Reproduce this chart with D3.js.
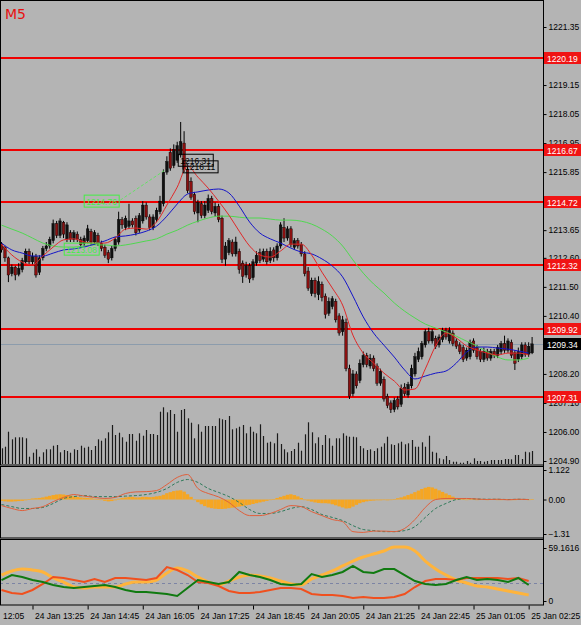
<!DOCTYPE html>
<html>
<head>
<meta charset="utf-8">
<script src="https://cdn.jsdelivr.net/npm/d3@7"></script>
<style>
  html, body { margin: 0; padding: 0; background: #b4b4b4; }
  svg { display: block; font-family: "Liberation Sans", Arial, sans-serif; }
</style>
</head>
<body>
<svg id="chart" width="581" height="625"></svg>
<script>
// ---- data ----
// one row per 5-minute bar: [open, high, low, close]
const candles = [
  [1213.13,1213.20,1212.80,1212.90],[1213.00,1213.05,1212.45,1212.60],[1212.60,1212.65,1211.68,1211.95],
  [1212.00,1212.35,1211.90,1212.25],[1212.25,1212.30,1211.75,1211.95],[1211.98,1212.40,1211.90,1212.20],
  [1212.15,1212.60,1212.05,1212.50],[1212.45,1212.95,1212.40,1212.85],[1212.85,1212.95,1212.35,1212.45],
  [1212.45,1212.80,1212.35,1212.65],[1212.65,1212.75,1211.85,1211.95],[1212.05,1212.70,1211.95,1212.60],
  [1212.60,1213.05,1212.50,1212.95],[1212.95,1213.20,1212.85,1213.05],[1213.05,1213.40,1212.95,1213.30],
  [1213.25,1214.05,1213.15,1213.90],[1213.90,1214.00,1213.35,1213.45],[1213.45,1214.10,1213.35,1214.00],
  [1213.95,1214.00,1213.35,1213.50],[1213.30,1213.95,1213.20,1213.85],[1213.55,1213.65,1213.20,1213.30],
  [1213.30,1213.65,1213.20,1213.55],[1213.50,1213.60,1213.20,1213.30],[1213.30,1213.40,1213.00,1213.10],
  [1213.15,1213.45,1213.05,1213.35],[1213.25,1213.85,1213.15,1213.70],[1213.60,1213.70,1213.10,1213.20],
  [1213.20,1213.65,1213.10,1213.55],[1213.45,1213.55,1213.05,1213.15],[1213.15,1213.25,1212.85,1212.95],
  [1213.00,1213.10,1212.60,1212.70],[1212.80,1212.90,1212.40,1212.55],[1212.60,1213.05,1212.50,1212.95],
  [1212.95,1213.40,1212.85,1213.30],[1213.20,1214.35,1213.10,1214.05],[1214.05,1214.15,1213.70,1213.85],
  [1213.75,1214.20,1213.65,1214.10],[1213.80,1214.65,1213.70,1214.00],[1214.00,1214.10,1213.75,1213.85],
  [1214.10,1214.20,1213.45,1213.55],[1213.65,1214.30,1213.55,1214.20],[1214.00,1214.75,1213.90,1214.60],
  [1214.60,1214.70,1214.05,1214.15],[1214.15,1214.25,1213.65,1213.75],[1213.75,1214.25,1213.65,1214.15],
  [1214.05,1214.50,1213.95,1214.40],[1214.35,1214.95,1214.25,1214.75],[1214.65,1215.95,1214.55,1215.85],
  [1215.85,1216.45,1215.75,1216.25],[1216.60,1216.75,1215.90,1216.00],[1216.10,1216.90,1216.00,1216.70],
  [1216.30,1217.00,1216.20,1216.85],[1216.50,1217.75,1216.40,1217.00],[1216.95,1217.40,1215.85,1215.95],
  [1215.95,1216.05,1215.05,1215.15],[1215.50,1215.65,1214.80,1214.90],[1215.00,1215.10,1214.25,1214.35],
  [1214.30,1214.80,1213.95,1214.70],[1214.65,1214.75,1214.10,1214.20],[1214.20,1214.75,1214.10,1214.60],
  [1214.40,1215.00,1214.30,1214.85],[1214.85,1214.95,1214.25,1214.35],[1214.30,1214.70,1214.15,1214.55],
  [1214.55,1214.65,1213.95,1214.05],[1214.10,1214.20,1212.40,1212.55],[1212.55,1213.20,1212.30,1213.05],
  [1212.80,1213.35,1212.70,1213.25],[1213.20,1213.30,1212.65,1212.75],[1212.75,1213.40,1212.65,1213.20],
  [1212.85,1212.95,1212.00,1212.15],[1212.40,1212.50,1211.65,1211.90],[1211.95,1212.45,1211.85,1212.30],
  [1212.30,1212.40,1211.65,1211.80],[1211.85,1212.55,1211.75,1212.45],[1212.40,1212.85,1212.30,1212.70],
  [1212.80,1212.95,1212.40,1212.50],[1212.55,1212.95,1212.45,1212.85],[1212.85,1212.95,1212.35,1212.45],
  [1212.50,1213.00,1212.40,1212.85],[1212.90,1213.00,1212.45,1212.60],[1212.60,1213.15,1212.50,1213.05],
  [1213.05,1213.95,1212.95,1213.85],[1213.75,1214.10,1213.20,1213.35],[1213.35,1213.80,1213.25,1213.70],
  [1213.70,1213.80,1213.00,1213.10],[1213.00,1213.35,1212.90,1213.25],[1213.25,1213.35,1212.95,1213.05],
  [1213.10,1213.20,1212.65,1212.75],[1212.75,1212.85,1211.90,1212.00],[1212.10,1212.25,1211.35,1211.45],
  [1211.25,1211.85,1211.15,1211.75],[1211.75,1211.85,1211.10,1211.25],[1211.20,1211.90,1211.00,1211.70],
  [1211.60,1211.70,1210.95,1211.10],[1211.15,1211.25,1210.30,1210.45],[1210.50,1211.10,1210.40,1210.95],
  [1210.75,1211.15,1210.65,1211.05],[1210.95,1211.05,1210.15,1210.25],[1210.40,1210.50,1209.65,1209.75],
  [1209.80,1210.40,1209.65,1210.25],[1210.15,1210.30,1208.30,1208.40],[1208.40,1208.55,1207.25,1207.35],
  [1207.45,1208.35,1207.35,1208.20],[1208.20,1208.30,1207.65,1207.75],[1207.95,1208.75,1207.85,1208.60],
  [1208.55,1209.05,1208.45,1208.90],[1208.90,1209.00,1208.45,1208.55],[1208.50,1208.95,1208.40,1208.80],
  [1208.80,1208.90,1208.30,1208.40],[1208.50,1208.60,1207.75,1207.85],[1207.85,1208.40,1207.75,1208.30],
  [1208.00,1208.10,1207.15,1207.25],[1207.35,1207.45,1206.90,1207.00],[1207.10,1207.20,1206.72,1206.85],
  [1206.85,1207.30,1206.75,1207.20],[1207.25,1207.35,1206.85,1206.95],[1207.05,1207.80,1206.95,1207.65],
  [1207.70,1207.85,1207.35,1207.45],[1207.40,1207.90,1207.30,1207.80],[1207.75,1208.55,1207.65,1208.40],
  [1208.20,1209.00,1208.10,1208.85],[1208.75,1209.20,1208.65,1209.05],[1208.85,1209.45,1208.75,1209.35],
  [1209.30,1209.90,1209.20,1209.80],[1209.80,1209.95,1209.35,1209.45],[1209.45,1209.90,1209.35,1209.80],
  [1209.55,1209.65,1209.15,1209.25],[1209.30,1209.70,1209.20,1209.60],[1209.50,1209.95,1209.40,1209.85],
  [1209.85,1209.95,1209.50,1209.60],[1209.45,1209.97,1209.35,1209.85],[1209.75,1209.85,1209.25,1209.35],
  [1209.45,1209.55,1209.15,1209.25],[1209.30,1209.40,1208.95,1209.05],[1209.20,1209.30,1208.65,1208.75],
  [1208.80,1209.20,1208.70,1209.10],[1208.85,1209.50,1208.75,1209.40],[1209.45,1209.55,1209.00,1209.10],
  [1209.20,1209.30,1208.75,1208.85],[1209.05,1209.15,1208.65,1208.75],[1208.75,1209.20,1208.65,1209.05],
  [1209.05,1209.15,1208.70,1208.80],[1208.80,1209.15,1208.70,1209.05],[1209.05,1209.15,1208.80,1208.90],
  [1208.90,1209.30,1208.80,1209.20],[1209.05,1209.45,1208.95,1209.35],[1209.35,1209.65,1209.00,1209.10],
  [1209.10,1209.55,1209.00,1209.45],[1209.40,1209.50,1208.80,1208.90],[1209.00,1209.10,1208.35,1208.60],
  [1208.75,1209.20,1208.65,1209.05],[1208.85,1209.40,1208.75,1209.30],[1209.30,1209.40,1208.85,1208.95],
  [1208.95,1209.40,1208.85,1209.25],[1209.00,1209.60,1208.95,1209.34]
];

// tick volume per bar
const volumes = [
  157,173,323,247,267,267,267,257,73,113,147,73,117,147,147,183,190,117,140,130,
  113,147,140,183,163,173,140,180,247,233,257,317,390,290,313,267,223,300,300,233,
  307,283,340,300,300,290,523,567,517,540,500,323,540,550,457,413,257,397,323,380,
  380,380,380,457,447,440,480,347,357,373,390,307,373,323,307,397,280,213,223,207,
  307,200,147,117,130,150,213,133,297,417,317,207,267,190,290,257,183,257,257,307,
  283,273,273,267,180,157,140,147,130,157,173,207,273,197,190,207,223,197,207,240,
  173,173,217,173,283,123,113,57,47,80,40,23,23,13,13,30,13,57,30,30,
  23,30,40,40,40,40,50,50,47,90,90,50,123,117,130
];

// indicator lines, one value every SAMPLE_STEP bars (bar 0, 3, 6 ...)
const SAMPLE_STEP = 3;
const maFast = [
  1213.12,1212.71,1212.44,1212.33,1212.67,1213.01,1213.28,1213.32,1213.20,1213.16,
  1213.16,1213.35,1213.69,1213.73,1213.69,1213.96,1214.60,1215.28,1216.08,1215.66,
  1215.24,1214.75,1214.22,1213.61,1213.05,1212.71,1212.63,1212.86,1213.12,1213.12,
  1212.71,1212.06,1211.46,1210.81,1209.67,1208.99,1208.61,1208.23,1207.93,1207.59,
  1207.63,1208.39,1209.26,1209.75,1209.56,1209.26,1209.11,1208.99,1208.92,1208.99,
  1208.99,1208.92
];
const maMid = [
  1213.16,1212.90,1212.78,1212.67,1212.67,1212.78,1212.90,1212.94,1213.01,1213.12,
  1213.24,1213.39,1213.43,1213.50,1213.61,1213.80,1214.18,1214.64,1215.02,1215.10,
  1215.17,1215.21,1215.06,1214.56,1213.96,1213.54,1213.32,1213.16,1212.97,1212.82,
  1212.75,1212.56,1212.29,1211.88,1211.15,1210.36,1209.75,1209.29,1208.84,1208.35,
  1208.01,1208.12,1208.23,1208.31,1208.61,1209.03,1209.22,1209.22,1209.18,1209.14,
  1209.07,1208.99
];
const maSlow = [
  1213.84,1213.69,1213.54,1213.35,1213.16,1213.05,1213.01,1213.01,1213.05,1213.09,
  1213.09,1213.05,1213.09,1213.16,1213.24,1213.32,1213.50,1213.65,1213.84,1213.99,
  1214.11,1214.18,1214.18,1214.14,1214.11,1214.11,1214.07,1214.03,1214.03,1213.99,
  1213.88,1213.69,1213.43,1213.05,1212.52,1212.02,1211.61,1211.27,1210.89,1210.58,
  1210.32,1210.09,1209.94,1209.79,1209.63,1209.44,1209.26,1209.03,1208.84,1208.73,
  1208.73,1208.80
];

// MACD: histogram per bar, lines sampled
const macdHist = [
  -0.05,-0.07,-0.08,-0.08,-0.07,-0.06,-0.05,-0.03,0.02,0.04,0.05,0.06,0.08,
  0.11,0.14,0.17,0.19,0.2,0.19,0.17,0.15,0.12,0.1,0.08,0.07,0.06,0.05,0.03,0.01,
  -0.02,-0.05,-0.07,-0.06,-0.03,0.03,0.06,0.08,0.1,0.1,0.08,0.08,0.1,0.1,0.09,
  0.1,0.12,0.14,0.18,0.24,0.28,0.32,0.34,0.35,0.3,0.2,0.1,0.0,
  -0.1,-0.18,-0.25,-0.3,-0.33,-0.35,-0.36,-0.36,-0.35,-0.33,-0.31,-0.29,
  -0.27,-0.25,-0.22,-0.2,-0.17,-0.14,-0.11,-0.08,-0.05,-0.02,
  0.02,0.06,0.1,0.14,0.18,0.2,0.17,0.12,0.06,0.0,-0.04,
  -0.08,-0.11,-0.13,-0.14,-0.14,-0.15,-0.18,-0.22,-0.26,-0.3,-0.34,-0.33,
  -0.27,-0.2,-0.14,-0.1,-0.07,-0.05,-0.04,-0.03,-0.03,-0.02,-0.03,-0.02,
  0.02,0.05,0.08,0.12,0.17,0.22,0.28,0.34,0.4,0.45,0.48,
  0.46,0.41,0.35,0.29,0.23,0.17,0.11,0.06,0.02,
  0.01,-0.01,0.02,0.01,-0.02,0.01,0.02,-0.01,0.01,0.02,-0.02,-0.01,0.01,0.02,-0.01,-0.02,0.01,0.02,0.01,-0.01,0.02
];
const macdMain = [
  -0.23,-0.34,-0.42,-0.34,-0.27,-0.08,0.08,0.19,0.13,0.08,
  0.04,0.08,0.23,0.29,0.30,0.34,0.57,0.84,0.95,0.42,
  0.23,0.10,-0.11,-0.42,-0.61,-0.61,-0.53,-0.38,-0.23,-0.27,
  -0.46,-0.61,-0.76,-0.84,-1.22,-1.25,-1.20,-1.20,-1.22,-1.10,
  -0.76,-0.30,0.0,0.04,0.04,0.04,0.02,0.0,0.01,-0.01,
  0.01,0.0
];
const macdSignal = [
  -0.19,-0.27,-0.34,-0.34,-0.30,-0.15,0.04,0.11,0.15,0.11,
  0.11,0.11,0.13,0.15,0.19,0.27,0.42,0.65,0.76,0.65,
  0.42,0.27,0.11,-0.11,-0.38,-0.53,-0.53,-0.46,-0.34,-0.27,
  -0.38,-0.57,-0.68,-0.80,-0.99,-1.14,-1.18,-1.22,-1.22,-1.18,
  -1.03,-0.68,-0.34,-0.15,0.0,0.04,0.02,0.01,0.01,0.0,
  0.01,0.0
];

// ADX panel
const adxLine = [
  29.0,33.5,35.7,34.6,32.4,25.7,21.2,15.6,14.5,15.6,
  15.6,15.6,19.0,21.2,21.2,23.4,31.3,36.8,33.5,26.8,
  21.2,17.9,22.3,26.8,29.0,27.9,25.7,22.3,19.0,17.9,
  24.6,29.0,33.5,39.1,44.6,49.1,52.5,55.8,60.3,60.3,
  55.8,44.6,35.7,29.0,23.4,20.1,16.7,15.6,13.4,11.2,
  8.9,6.7
];
const plusDI = [
  23.4,29.0,26.8,23.4,21.2,17.9,15.6,14.5,15.6,16.7,
  17.9,15.6,12.3,10.0,10.0,8.9,7.8,5.6,14.5,23.4,
  21.2,19.0,21.2,32.4,29.0,26.8,23.4,19.0,17.9,19.0,
  30.1,26.8,29.0,32.4,39.1,32.4,31.3,35.7,35.7,29.0,
  22.3,19.0,17.9,19.0,23.4,26.8,23.4,24.6,23.4,21.2,
  25.7,17.9
];
const minusDI = [
  12.3,8.9,7.8,12.3,19.0,26.8,25.7,23.4,21.2,24.6,
  21.2,25.7,25.7,24.6,23.4,25.7,37.9,34.6,29.0,21.2,
  20.1,16.7,11.2,8.9,8.9,10.0,12.3,14.5,14.5,13.4,
  7.8,6.7,6.7,5.6,3.3,4.5,3.3,3.3,4.5,7.8,
  15.6,22.3,24.6,24.6,23.4,25.7,25.7,25.7,25.7,24.6,
  25.7,22.3
];
const adxLevel = 20;

// levels and labels
const levels = [1220.19, 1216.67, 1214.72, 1212.32, 1209.92, 1207.31];
const bidPrice = 1209.34;
const priceTicks = [1221.35, 1219.15, 1218.05, 1216.95, 1215.85, 1213.65, 1212.60,
  1211.50, 1210.40, 1208.20, 1207.10, 1206.00, 1204.90];
const macdTicks = [1.122, 0.00, -1.31];
const adxTicks = [59.1616, 0];
const timeLabels = ["24 Jan 12:05", "24 Jan 13:25", "24 Jan 14:45", "24 Jan 16:05", "24 Jan 17:25",
  "24 Jan 18:45", "24 Jan 20:05", "24 Jan 21:25", "24 Jan 22:45", "25 Jan 01:05", "25 Jan 02:25"];
const timeBars = [-8.5, 9, 25, 41, 57, 73, 89, 105, 121, 137, 153];

// price tags drawn on the chart
const tags = [
  {text: "1213.08", bar: 18.2, price: 1212.93, color: "#44ee44"},
  {text: "1214.76", bar: 24, price: 1214.75, color: "#44ee44"},
  {text: "1216.31", bar: 51.3, price: 1216.30, color: "#000"},
  {text: "1216.11", bar: 52.7, price: 1216.05, color: "#000"}
];
const trendLine = [[34.5, 1214.79], [47.5, 1215.93]];

// ---- layout ----
const PLOT_RIGHT = 543;
const BG = "#b4b4b4";
const FONT = "Liberation Sans, Arial, sans-serif";
const main = {top: 1, bottom: 465};
const macdP = {top: 467, bottom: 538};
const adxP = {top: 540, bottom: 605};

const svg = d3.select("#chart");
svg.append("rect").attr("width", 581).attr("height", 625).attr("fill", BG);

const x = d3.scaleLinear().domain([0, 154]).range([1.5, 532.1]);
const priceY = d3.scaleLinear().domain([1204.90, 1221.35]).range([461, 27]);
const volY = d3.scaleLinear().domain([0, 1000]).range([464, 364]);
const macdY = d3.scaleLinear().domain([-1.31, 1.122]).range([534, 470]);
const adxY = d3.scaleLinear().domain([0, 59.1616]).range([601, 548]);

const defs = svg.append("defs");
function clip(id, p) {
  defs.append("clipPath").attr("id", id)
    .append("rect").attr("x", 0).attr("y", p.top).attr("width", PLOT_RIGHT).attr("height", p.bottom - p.top);
  return svg.append("g").attr("clip-path", `url(#${id})`);
}
const gMain = clip("clip-main", main);
const gMacd = clip("clip-macd", macdP);
const gAdx = clip("clip-adx", adxP);

const sampleX = (d, k) => x(k * SAMPLE_STEP);
const crisp = v => Math.round(v) + 0.5;

// ---- main window ----
gMain.append("line")
  .attr("x1", 0).attr("x2", PLOT_RIGHT)
  .attr("y1", crisp(priceY(bidPrice))).attr("y2", crisp(priceY(bidPrice)))
  .attr("stroke", "#8c9cac").attr("stroke-width", 1);

gMain.append("g").selectAll("line").data(volumes).enter().append("line")
  .attr("x1", (d, i) => crisp(x(i))).attr("x2", (d, i) => crisp(x(i)))
  .attr("y1", volY(0)).attr("y2", d => volY(d))
  .attr("stroke", "#1a1a1a").attr("stroke-width", 1.2);

// horizontal levels, 2px red strips
gMain.append("g").selectAll("rect").data(levels).enter().append("rect")
  .attr("x", 0).attr("width", PLOT_RIGHT)
  .attr("y", d => Math.round(priceY(d)) - 1).attr("height", 2)
  .attr("fill", "#f00000").attr("shape-rendering", "crispEdges");

const candleG = gMain.append("g");
candleG.selectAll("line").data(candles).enter().append("line")
  .attr("x1", (d, i) => x(i)).attr("x2", (d, i) => x(i))
  .attr("y1", d => priceY(d[1])).attr("y2", d => priceY(d[2]))
  .attr("stroke", "#000").attr("stroke-width", 1);
candleG.selectAll("rect").data(candles).enter().append("rect")
  .attr("x", (d, i) => x(i) - 1.3)
  .attr("y", d => priceY(Math.max(d[0], d[3])))
  .attr("width", 2.6)
  .attr("height", d => Math.max(1, Math.abs(priceY(d[0]) - priceY(d[3]))))
  .attr("fill", d => d[3] >= d[0] ? "#111" : "#8a1010")
  .attr("stroke", "#000").attr("stroke-width", 0.4);

function priceLine(data, color) {
  gMain.append("path").datum(data)
    .attr("fill", "none").attr("stroke", color).attr("stroke-width", 1)
    .attr("d", d3.line().x(sampleX).y(d => priceY(d)).curve(d3.curveMonotoneX));
}
priceLine(maSlow, "#50d850");
priceLine(maMid, "#1414c8");
priceLine(maFast, "#e02828");

gMain.append("line")
  .attr("x1", x(trendLine[0][0])).attr("y1", priceY(trendLine[0][1]))
  .attr("x2", x(trendLine[1][0])).attr("y2", priceY(trendLine[1][1]))
  .attr("stroke", "#66e066").attr("stroke-dasharray", "3,2");

const tagG = gMain.selectAll("g.tag").data(tags).enter().append("g").attr("class", "tag")
  .attr("transform", d => `translate(${x(d.bar)},${priceY(d.price)})`);
tagG.append("rect").attr("x", 0).attr("y", -6).attr("width", 35).attr("height", 12)
  .attr("fill", "none").attr("stroke", d => d.color);
tagG.append("text").attr("x", 2).attr("y", 3.5).attr("font-size", 8.5)
  .attr("fill", d => d.color).text(d => d.text);

svg.append("text").attr("x", 5).attr("y", 19).attr("font-size", 14)
  .attr("font-family", "DejaVu Sans, sans-serif").attr("fill", "#e81010").text("M5");

// ---- MACD window ----
gMacd.append("g").selectAll("rect").data(macdHist).enter().append("rect")
  .attr("x", (d, i) => x(i) - 1.72).attr("width", 3.45)
  .attr("y", d => macdY(Math.max(0, d)))
  .attr("height", d => Math.max(0.6, Math.abs(macdY(d) - macdY(0))))
  .attr("fill", "#f5a623");
gMacd.append("path").datum(macdSignal)
  .attr("fill", "none").attr("stroke", "#2f7a5a").attr("stroke-width", 1).attr("stroke-dasharray", "3,2")
  .attr("d", d3.line().x(sampleX).y(d => macdY(d)).curve(d3.curveMonotoneX));
gMacd.append("path").datum(macdMain)
  .attr("fill", "none").attr("stroke", "#e0603c").attr("stroke-width", 1)
  .attr("d", d3.line().x(sampleX).y(d => macdY(d)).curve(d3.curveMonotoneX));

// ---- ADX window ----
gAdx.append("line").attr("x1", 0).attr("x2", PLOT_RIGHT)
  .attr("y1", crisp(adxY(adxLevel))).attr("y2", crisp(adxY(adxLevel)))
  .attr("stroke", "#7c84a4").attr("stroke-dasharray", "3,3");
gAdx.append("path").datum(adxLine)
  .attr("fill", "none").attr("stroke", "#ffb43c").attr("stroke-width", 3)
  .attr("d", d3.line().x(sampleX).y(d => adxY(d)).curve(d3.curveMonotoneX));
gAdx.append("path").datum(minusDI)
  .attr("fill", "none").attr("stroke", "#f0501e").attr("stroke-width", 2)
  .attr("d", d3.line().x(sampleX).y(d => adxY(d)));
gAdx.append("path").datum(plusDI)
  .attr("fill", "none").attr("stroke", "#107a10").attr("stroke-width", 2)
  .attr("d", d3.line().x(sampleX).y(d => adxY(d)));

// ---- frames ----
[main, macdP, adxP].forEach(p => {
  svg.append("rect").attr("x", 0.5).attr("y", p.top - 0.5)
    .attr("width", PLOT_RIGHT).attr("height", p.bottom - p.top + 0.5)
    .attr("fill", "none").attr("stroke", "#000").attr("stroke-width", 1);
});

// ---- right axes ----
function rightAxis(scale, ticks, fmt) {
  const g = svg.append("g").attr("transform", `translate(${PLOT_RIGHT + 0.5},0)`)
    .call(d3.axisRight(scale).tickValues(ticks).tickFormat(fmt).tickSize(3).tickPadding(2));
  g.select(".domain").remove();
  g.selectAll("text").attr("font-size", 8.5).attr("fill", "#000").attr("font-family", FONT);
  g.selectAll("line").attr("stroke", "#000");
  return g;
}
rightAxis(priceY, priceTicks, d3.format(".2f"));
rightAxis(macdY, macdTicks, d => d === 1.122 ? "1.122" : d3.format(".2f")(d));
rightAxis(adxY, adxTicks, d => d === 0 ? "0" : "59.1616");

function priceTag(value, fill) {
  const yy = Math.round(priceY(value));
  svg.append("rect").attr("x", PLOT_RIGHT + 1).attr("y", yy - 6).attr("width", 37).attr("height", 12)
    .attr("fill", fill);
  svg.append("text").attr("x", PLOT_RIGHT + 4).attr("y", yy + 3.5).attr("font-size", 8.5)
    .attr("font-family", FONT).attr("fill", "#fff").text(value.toFixed(2));
}
levels.forEach(v => priceTag(v, "#f01414"));
priceTag(bidPrice, "#000");

// ---- time axis ----
const tAxis = svg.append("g").attr("transform", `translate(0,${adxP.bottom + 0.5})`)
  .call(d3.axisBottom(x).tickValues(timeBars).tickFormat((d, i) => timeLabels[i]).tickSize(4).tickPadding(3));
tAxis.select(".domain").remove();
tAxis.selectAll("line").attr("stroke", "#000");
tAxis.selectAll("text").attr("text-anchor", "start").attr("dx", 2).attr("font-size", 8.5)
  .attr("fill", "#000").attr("font-family", FONT);
// the first label starts left of the window: only its time part is visible
tAxis.selectAll(".tick").filter(d => x(d) < 0).select("text")
  .text((d) => timeLabels[timeBars.indexOf(d)].slice(7))
  .attr("dx", 2 - x(-8.5) + 0.5);

svg.append("line").attr("x1", PLOT_RIGHT + 0.5).attr("x2", PLOT_RIGHT + 0.5).attr("y1", 0).attr("y2", adxP.bottom)
  .attr("stroke", "#000");
</script>
</body>
</html>
